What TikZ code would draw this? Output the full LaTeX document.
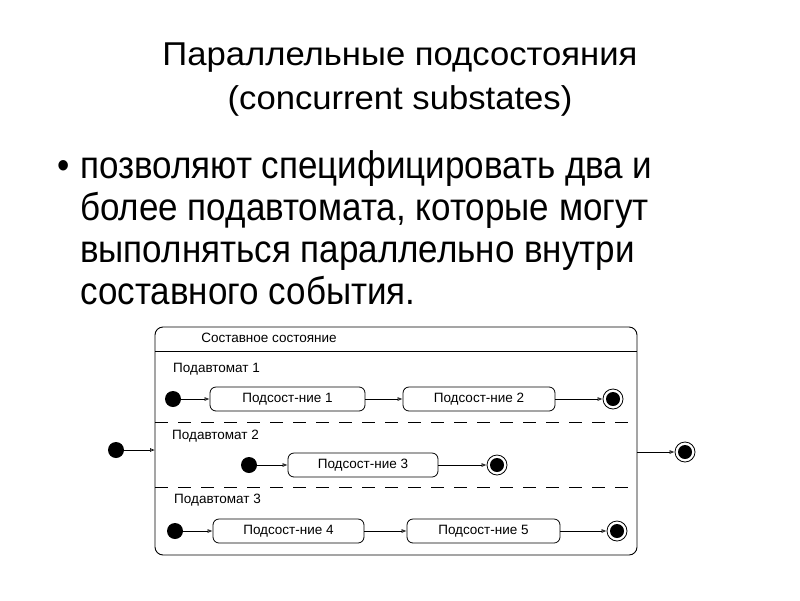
\documentclass[tikz,border=0pt]{standalone}
\usepackage{fontspec}
\setmainfont{Liberation Sans}
\usetikzlibrary{arrows.meta}
\begin{document}
\begin{tikzpicture}[x=1pt,y=-1pt,
  sub/.style={draw,line width=0.8pt,rounded corners=6pt,minimum width=152pt,minimum height=24pt,inner sep=0pt,font=\fontsize{13.5}{15}\selectfont},
  ini/.style={circle,fill=black,minimum size=16pt,inner sep=0pt},
  fin/.style={circle,draw,line width=0.8pt,minimum size=20pt,inner sep=0pt,path picture={\fill[black] (path picture bounding box.center) circle (7pt);}},
  tr/.style={draw,line width=0.7pt,-{Latex[open,length=5pt,width=4pt]}},
  lbl/.style={anchor=west,font=\fontsize{13.5}{15}\selectfont,inner sep=0pt},
  ttl/.style={anchor=base,inner sep=0pt,font=\fontsize{33}{36}\selectfont},
  txt/.style={anchor=base west,inner sep=0pt,font=\fontsize{35}{40}\selectfont}
]
\useasboundingbox (0,0) rectangle (800,600);
\node[ttl] (title1) at (400,65) {\scalebox{1.05}[1]{Параллельные подсостояния}};
\node[ttl] (title2) at (400,109) {\scalebox{1.05}[1]{(concurrent substates)}};
\node[txt] (bul) at (57,178) {\scalebox{1}[1.1]{•}};
\node[txt] (l1) at (80,178) {\scalebox{1}[1.1]{позволяют специфицировать два и}};
\node[txt] (l2) at (80,220) {\scalebox{1}[1.1]{более подавтомата, которые могут}};
\node[txt] (l3) at (80,262) {\scalebox{1}[1.1]{выполняться параллельно внутри}};
\node[txt] (l4) at (80,304) {\scalebox{1}[1.1]{составного события.}};
% composite
\draw[line width=0.9pt,rounded corners=8pt] (155,327) rectangle (637,555);
\coordinate (hl) at (155,351); \coordinate (hr) at (637,351);
\draw[line width=0.9pt] (hl) -- (hr);
\node[font=\fontsize{13.5}{15}\selectfont] (ctitle) at (269,338) {Составное состояние};
\draw[line width=0.9pt,dash pattern=on 13pt off 10pt] (155,422) -- (637,422);
\draw[line width=0.9pt,dash pattern=on 13pt off 10pt] (155,487) -- (637,487);
\node[lbl] (p1) at (173,369) {Подавтомат 1};
\node[lbl] (p2) at (172,436) {Подавтомат 2};
\node[lbl] (p3) at (174,500) {Подавтомат 3};
% row 1
\node[ini] (i1) at (173,399) {};
\node[sub,minimum width=155pt] (s1) at (287.5,399) {Подсост-ние 1};
\node[sub] (s2) at (479,399) {Подсост-ние 2};
\node[fin] (f1) at (613,399) {};
\draw[tr] (i1) -- (s1); \draw[tr] (s1) -- (s2); \draw[tr] (s2) -- (f1);
% row 2
\node[ini] (i2) at (249,465) {};
\node[sub,minimum width=150pt] (s3) at (363,465) {Подсост-ние 3};
\node[fin] (f2) at (497,465) {};
\draw[tr] (i2) -- (s3); \draw[tr] (s3) -- (f2);
% row 3
\node[ini] (i3) at (175,531) {};
\node[sub,minimum width=151pt] (s4) at (288.5,531) {Подсост-ние 4};
\node[sub,minimum width=153pt] (s5) at (483.5,531) {Подсост-ние 5};
\node[fin] (f3) at (617,531) {};
\draw[tr] (i3) -- (s4); \draw[tr] (s4) -- (s5); \draw[tr] (s5) -- (f3);
% outer
\node[ini] (i0) at (116,450) {};
\coordinate (bl) at (155,450);
\draw[tr] (i0) -- (bl);
\coordinate (br) at (637,452);
\node[fin] (f0) at (685,452) {};
\draw[tr] (br) -- (f0);
\end{tikzpicture}
\end{document}
